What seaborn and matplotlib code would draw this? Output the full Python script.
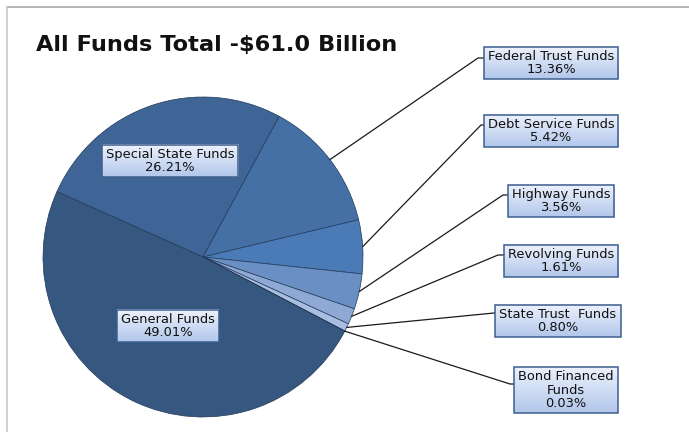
import numpy as np
import matplotlib
matplotlib.use("Agg")
import matplotlib.pyplot as plt
from matplotlib.patches import Rectangle
from matplotlib.lines import Line2D
import seaborn as sns

# Fund shares, in drawing order (clockwise from the upper-left boundary)
funds = ["Special State Funds", "Federal Trust Funds", "Debt Service Funds",
         "Highway Funds", "Revolving Funds", "State Trust Funds",
         "Bond Financed Funds", "General Funds"]
shares = [26.21, 13.36, 5.42, 3.56, 1.61, 0.80, 0.03, 49.01]
label_text = ["Special State Funds", "Federal Trust Funds", "Debt Service Funds",
              "Highway Funds", "Revolving Funds", "State Trust  Funds",
              "Bond Financed\nFunds", "General Funds"]
title = "All Funds Total -$61.0 Billion"

slice_colors = ["#3e6595", "#4470a5", "#4a7bb7", "#6a8fc5",
                "#8fa9d5", "#a9bde0", "#c3d1ea", "#36577f"]

sns.set_theme(style="white")
plt.rcParams["font.family"] = ["DejaVu Sans"]

W, H = 689, 432
fig = plt.figure(figsize=(W / 100, H / 100), dpi=100)
ax = fig.add_axes([0, 0, 1, 1])
ax.set_xlim(0, W)
ax.set_ylim(0, H)
ax.set_aspect("equal")
ax.axis("off")

# Outer frame (top and left rules)
fig.add_artist(Line2D([7 / W, 1], [1 - 7 / H, 1 - 7 / H], color="#a8a8a8", lw=1.2))
fig.add_artist(Line2D([7 / W, 7 / W], [0, 1 - 7 / H], color="#c8c8c8", lw=1.2))

cx, cy, r = 203, H - 257, 160
start = 155.9
palette = sns.color_palette(slice_colors)
wedges, _ = ax.pie(shares, colors=palette, startangle=start, counterclock=False,
                   center=(cx, cy), radius=r, frame=True,
                   wedgeprops=dict(edgecolor="#22395a", linewidth=0.5))
ax.set_xlim(0, W)
ax.set_ylim(0, H)
ax.axis("off")

ax.text(36, H - 45, title, fontsize=16.2, fontweight="bold", color="#111111",
        va="center", ha="left")

# Label placement: (text centre x, y) in pixels from top, and connector elbow
inside = {0: (170, 161), 7: (168, 326)}
outside = {1: ((551, 63), (478, 58), 484),
           2: ((551, 131), (481, 125), 487),
           3: ((561, 201), (503, 195), 509),
           4: ((561, 261), (498, 255), 505),
           5: ((558, 321), (494, 313), 499),
           6: ((566, 390), (510, 384), 516)}

texts = []
for i, (name, val) in enumerate(zip(label_text, shares)):
    s = f"{name}\n{val:.2f}%"
    if i in inside:
        x, y = inside[i]
    else:
        (x, y), elbow, boxleft = outside[i]
        # connector from wedge mid-angle on the rim to the label box
        theta = np.deg2rad(start - (sum(shares[:i]) + val / 2) / 100 * 360)
        px, py = cx + r * np.cos(theta), cy + r * np.sin(theta)
        ex, ey = elbow
        ax.plot([px, ex, boxleft], [py, H - ey, H - ey], color="#1a1a1a",
                lw=0.9, zorder=3)
    t = ax.text(x, H - y, s, fontsize=9.4, ha="center", va="center",
                color="#111111", linespacing=1.08, zorder=6)
    texts.append(t)

# Gradient label boxes sized to their text: pale at the top, bluer at the bottom
fig.canvas.draw()
renderer = fig.canvas.get_renderer()
grad = np.linspace(0, 1, 64).reshape(-1, 1)
top = np.array([0.93, 0.95, 0.99])
bottom = np.array([0.70, 0.78, 0.92])
img = bottom[None, None, :] * (1 - grad[..., None]) + top[None, None, :] * grad[..., None]
for t in texts:
    bb = t.get_window_extent(renderer)
    x0, x1 = bb.x0 - 4, bb.x1 + 4
    y0, y1 = bb.y0 - 3, bb.y1 + 3
    ax.imshow(img, extent=(x0, x1, y0, y1), origin="lower", aspect="auto",
              zorder=4, interpolation="bilinear")
    ax.add_patch(Rectangle((x0, y0), x1 - x0, y1 - y0, fill=False,
                           edgecolor="#3d5f8e", lw=1.1, zorder=5))
ax.set_xlim(0, W)
ax.set_ylim(0, H)

fig.savefig("out.png", dpi=100)
